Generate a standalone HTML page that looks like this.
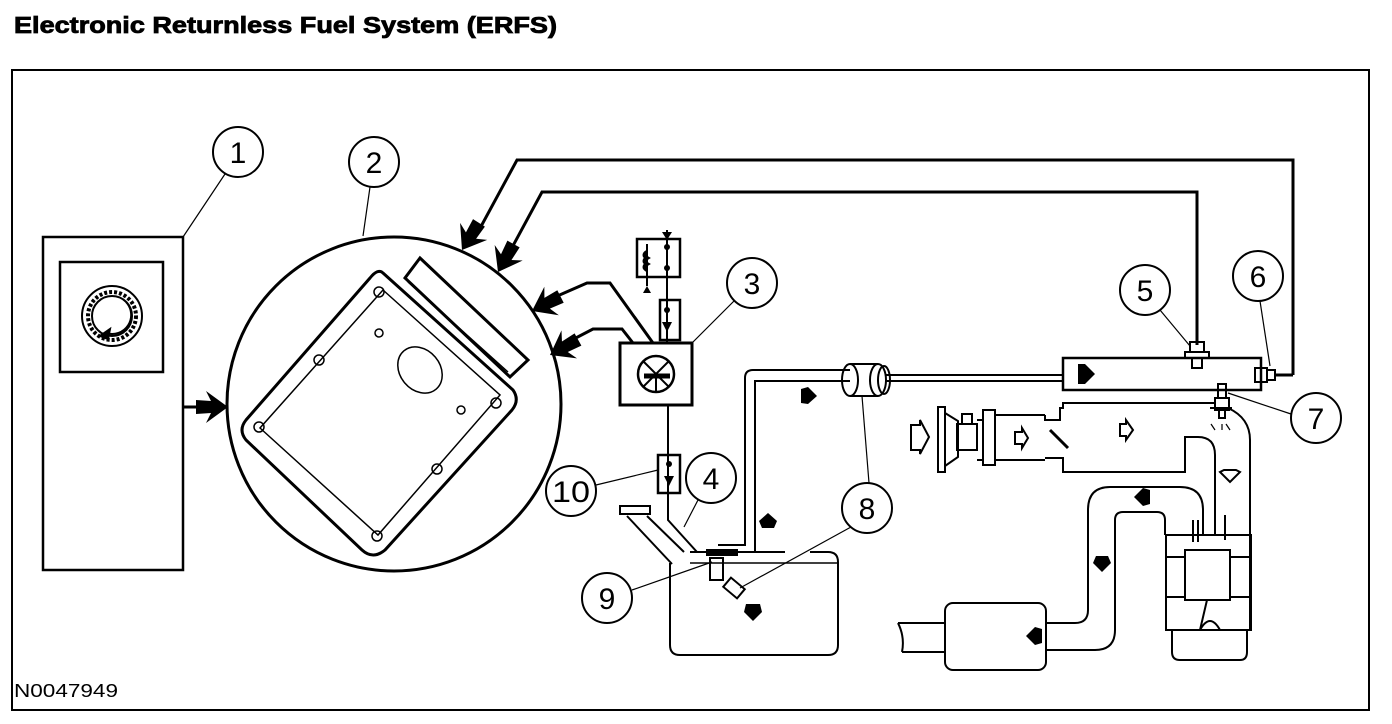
<!DOCTYPE html>
<html><head><meta charset="utf-8"><style>
html,body{margin:0;padding:0;background:#fff;}
svg{display:block;}
text{font-family:"Liberation Sans",Arial,sans-serif;}
</style></head><body>
<svg width="1392" height="724" viewBox="0 0 1392 724" xmlns="http://www.w3.org/2000/svg">
<defs>
<polygon id="ah" points="0,0 -22,-16 -17,-6 -32,-7 -32,7 -17,6 -22,16" fill="#000"/>
</defs>
<text x="14" y="33" font-size="23" font-weight="bold" stroke="#000" stroke-width="0.8" textLength="543" lengthAdjust="spacingAndGlyphs">Electronic Returnless Fuel System (ERFS)</text>
<rect x="12" y="70" width="1357" height="640" fill="none" stroke="#000" stroke-width="2"/>
<text x="14" y="697" font-size="18" textLength="104" lengthAdjust="spacingAndGlyphs">N0047949</text>

<g fill="none" stroke="#000" stroke-width="2">
<!-- box 1 -->
<rect x="43" y="237" width="140" height="333" stroke-width="2.5"/>
<rect x="60" y="262" width="103" height="110" stroke-width="2.5"/>
<circle cx="112" cy="316" r="30" stroke-width="2"/>
<circle cx="112" cy="316" r="24" stroke-dasharray="3 2" stroke-width="4"/>
<circle cx="112" cy="316" r="20"/>
<path d="M126 302 A19 19 0 0 1 106 333" stroke-width="2"/>
<polygon points="100,336 110,329 108,339" fill="#000"/>
<line x1="183" y1="407" x2="200" y2="407" stroke-width="3"/>
<!-- circle 2 -->
<circle cx="394" cy="404" r="167" stroke-width="3"/>
<path d="M383 273 L513 390 Q520 400 512 410 L385 550 Q373 560 362 550 L246 440 Q238 430 246 420 L370 278 Q378 268 383 273 Z" stroke-width="3"/>
<path d="M383 290 L500 395 L378 535 L260 428 Z" stroke-width="1.5"/>
<polygon points="420,258 528,360 510,377 405,278" stroke-width="3"/>
<line x1="408" y1="282" x2="508" y2="372" stroke-width="1.5"/>
<ellipse cx="420" cy="370" rx="20" ry="25" transform="rotate(-40 420 370)" stroke-width="1.5"/>
<g stroke-width="1.5">
<circle cx="379" cy="292" r="5"/><circle cx="319" cy="360" r="5"/><circle cx="259" cy="427" r="5"/>
<circle cx="496" cy="403" r="5"/><circle cx="437" cy="469" r="5"/><circle cx="377" cy="536" r="5"/>
<circle cx="379" cy="333" r="4"/><circle cx="461" cy="410" r="4"/>
</g>
<!-- wires -->
<g stroke-width="3">
<polyline points="1293,375 1293,160 517,160 478,232"/>
<polyline points="1197,345 1197,192 542,192 508,255"/>
<polyline points="653,343 610,283 587,283 555,297"/>
<polyline points="633,343 622,329 593,329 570,341"/>
<line x1="1275" y1="375" x2="1293" y2="375"/>
</g>
<!-- module 3 and fuses -->
<rect x="620" y="343" width="72" height="62" stroke-width="3"/>
<circle cx="656" cy="374" r="18" stroke-width="2.5"/>
<line x1="643" y1="361" x2="669" y2="387"/><line x1="669" y1="361" x2="643" y2="387"/>
<line x1="644" y1="376" x2="670" y2="376" stroke-width="5"/>
<line x1="656" y1="376" x2="656" y2="392"/>
<rect x="637" y="239" width="43" height="38" stroke-width="2.5"/>
<line x1="667" y1="230" x2="667" y2="343"/>
<line x1="647" y1="244" x2="647" y2="286"/>
<path d="M647 252 q-5 3 0 6 q-5 3 0 6 q-5 3 0 6" stroke-width="4"/>
<rect x="660" y="300" width="20" height="40" stroke-width="2.5"/>
<rect x="658" y="455" width="22" height="38" stroke-width="2.5"/>
<polyline points="668,405 668,520 697,552 745,552"/>
<!-- tank -->
<path d="M670 563 L670 645 Q670 655 680 655 L828 655 Q838 655 838 645 L838 562 Q838 552 828 552 L810 552"/>
<line x1="690" y1="552" x2="785" y2="552"/>
<line x1="690" y1="563" x2="838" y2="563" stroke-width="1.5"/>
<rect x="620" y="506" width="30" height="8"/>
<polyline points="627,516 672,564"/><polyline points="647,516 684,552"/>
<rect x="710" y="558" width="13" height="22"/>
<rect x="725" y="582" width="18" height="12" transform="rotate(40 734 588)"/>
<rect x="707" y="550" width="30" height="5" fill="#000"/>
<!-- fuel pipe -->
<path d="M718 545 L745 545 L745 378 Q745 370 753 370 L850 370"/>
<path d="M725 552 L755 552 L755 381 L850 381"/>
<ellipse cx="850" cy="380" rx="8" ry="16"/>
<path d="M850 364 L878 364 M850 396 L878 396"/>
<ellipse cx="878" cy="380" rx="8" ry="16"/>
<ellipse cx="884" cy="380" rx="6" ry="14"/>
<path d="M886 375 L1063 375 M886 381 L1063 381"/>
<!-- fuel rail -->
<rect x="1063" y="358" width="198" height="32" stroke-width="2.5"/>
<rect x="1190" y="342" width="14" height="10"/><rect x="1185" y="352" width="24" height="6"/><rect x="1192" y="358" width="10" height="10"/>
<rect x="1255" y="368" width="12" height="14"/><rect x="1267" y="370" width="8" height="10"/>
<rect x="1218" y="384" width="8" height="14"/><rect x="1215" y="398" width="14" height="12"/><rect x="1219" y="410" width="6" height="8"/>
<line x1="1215" y1="430" x2="1211" y2="424" stroke-width="1.2"/><line x1="1222" y1="430" x2="1222" y2="424" stroke-width="1.2"/><line x1="1230" y1="430" x2="1226" y2="424" stroke-width="1.2"/>
<!-- intake -->
<rect x="938" y="407" width="7" height="65"/>
<path d="M945 413 L958 421 L958 457 L945 466"/>
<rect x="957" y="424" width="20" height="26"/><rect x="962" y="414" width="10" height="10"/>
<line x1="977" y1="420" x2="983" y2="420"/><line x1="977" y1="460" x2="983" y2="460"/>
<rect x="983" y="410" width="12" height="55"/>
<path d="M995 415 L1045 415 M995 460 L1045 460"/>
<path d="M1045 415 L1045 420 L1060 420 L1060 408 L1063 408 L1063 403 L1215 403"/>
<path d="M1045 458 L1063 458 L1063 472 L1185 472 L1185 437 L1198 437 Q1215 437 1215 455 L1215 535"/>
<path d="M1228 408 Q1250 418 1250 440 L1250 630"/>
<line x1="1210" y1="408" x2="1232" y2="408"/>
<line x1="1050" y1="430" x2="1068" y2="448" stroke-width="3"/>
<!-- engine -->
<rect x="1166" y="535" width="85" height="95"/>
<rect x="1185" y="550" width="45" height="50"/>
<line x1="1166" y1="557" x2="1185" y2="557"/><line x1="1230" y1="557" x2="1251" y2="557"/>
<line x1="1166" y1="597" x2="1185" y2="597"/><line x1="1230" y1="597" x2="1251" y2="597"/>
<path d="M1193 520 L1193 542 M1225 515 L1225 540 M1198 520 L1198 542"/>
<path d="M1200 630 Q1210 612 1220 630 M1207 600 L1200 630"/>
<path d="M1172 630 L1172 652 Q1172 660 1180 660 L1240 660 Q1247 660 1247 652 L1247 630"/>
<!-- exhaust -->
<path d="M1203 535 L1203 510 Q1203 487 1180 487 L1110 487 Q1088 487 1088 510 L1088 610 Q1088 623 1075 623 L1046 623"/>
<path d="M1165 535 L1165 520 Q1165 512 1157 512 L1123 512 Q1115 512 1115 520 L1115 630 Q1115 650 1095 650 L1046 650"/>
<rect x="945" y="603" width="101" height="67" rx="8"/>
<path d="M898 623 L945 623 M902 652 L945 652 M898 623 Q905 637 902 652"/>
<!-- outline arrows -->
<path d="M911 425 L920 425 L920 420 L929 437 L920 454 L920 450 L911 450 Z"/>
<path d="M1015 432 L1022 432 L1022 428 L1028 438 L1022 448 L1022 444 L1015 444 Z"/>
<path d="M1120 424 L1126 424 L1126 420 L1133 430 L1126 440 L1126 436 L1120 436 Z"/>
<path d="M1224 470 L1236 470 L1240 472 L1230 482 L1220 472 Z"/>
<!-- callouts -->
<g stroke-width="2">
<circle cx="238" cy="152" r="25"/><circle cx="374" cy="162" r="25"/><circle cx="752" cy="283" r="25"/>
<circle cx="711" cy="478" r="25"/><circle cx="1145" cy="290" r="25"/><circle cx="1258" cy="276" r="25"/>
<circle cx="1316" cy="418" r="25"/><circle cx="867" cy="508" r="25"/><circle cx="607" cy="598" r="25"/>
<circle cx="571" cy="491" r="25"/>
</g>
<g stroke-width="1.2">
<line x1="225" y1="174" x2="183" y2="237"/><line x1="370" y1="187" x2="363" y2="236"/>
<line x1="734" y1="301" x2="692" y2="343"/><line x1="698" y1="500" x2="684" y2="527"/>
<line x1="1160" y1="310" x2="1190" y2="346"/><line x1="1260" y1="301" x2="1270" y2="366"/>
<line x1="1291" y1="414" x2="1228" y2="393"/><line x1="869" y1="483" x2="862" y2="396"/>
<line x1="851" y1="527" x2="740" y2="588"/><line x1="632" y1="590" x2="712" y2="562"/>
<line x1="596" y1="485" x2="658" y2="470"/>
</g>
</g>
<!-- fuse/relay dots -->
<g fill="#000">
<circle cx="667" cy="247" r="3"/><circle cx="667" cy="268" r="3"/>
<circle cx="667" cy="310" r="3"/><polygon points="662,322 672,322 667,332"/>
<circle cx="669" cy="464" r="3"/><polygon points="664,476 674,476 669,486"/>
<polygon points="643,293 651,293 647,286"/><polygon points="662,232 672,232 667,240"/>
</g>
<!-- big arrows -->
<use href="#ah" transform="translate(462,250) rotate(122)"/>
<use href="#ah" transform="translate(498,272) rotate(119)"/>
<use href="#ah" transform="translate(532,311) rotate(153)"/>
<use href="#ah" transform="translate(550,355) rotate(151)"/>
<use href="#ah" transform="translate(228,407)"/>
<!-- small flow arrows (pentagon style) -->
<g fill="#000">
<polygon points="1095,374 1085,364 1078,364 1078,384 1085,384"/>
<polygon points="817,396 808,387 801,389 801,403 808,404"/>
<polygon points="768,513 759,521 762,528 774,528 777,521"/>
<polygon points="753,621 744,612 746,604 760,604 762,612"/>
<polygon points="1134,497 1143,488 1150,490 1150,504 1143,506"/>
<polygon points="1102,572 1093,563 1096,556 1108,556 1111,563"/>
<polygon points="1026,636 1035,627 1042,629 1042,643 1035,645"/>
</g>
<g font-size="30" text-anchor="middle" fill="#000">
<text x="238" y="163">1</text><text x="374" y="173">2</text><text x="752" y="294">3</text>
<text x="711" y="489">4</text><text x="1145" y="301">5</text><text x="1258" y="287">6</text>
<text x="1316" y="429">7</text><text x="867" y="519">8</text><text x="607" y="609">9</text>
<text x="571" y="502" textLength="38" lengthAdjust="spacingAndGlyphs">10</text>
</g>
</svg>
</body></html>
